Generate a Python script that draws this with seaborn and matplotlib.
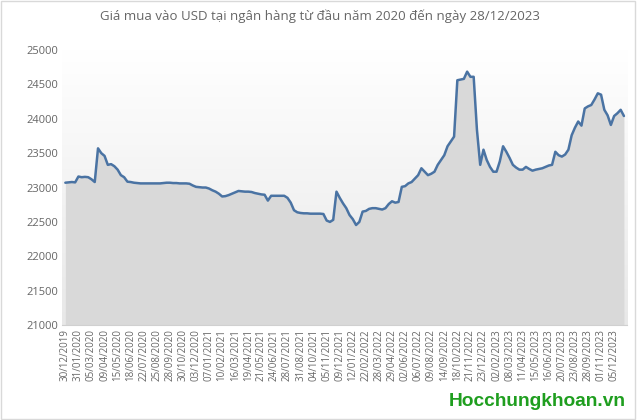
import numpy as np
import pandas as pd
import matplotlib
matplotlib.use("Agg")
import matplotlib.pyplot as plt
import seaborn as sns
from matplotlib.patches import Rectangle

# USD buying price (4 points per tick interval)
usd_price = [
    23070, 23075, 23080, 23075, 23160, 23150, 23155, 23150, 23120, 23080,
    23570, 23500, 23460, 23330, 23340, 23310, 23260, 23180, 23150, 23085,
    23080, 23070, 23065, 23060, 23060, 23060, 23060, 23060, 23060, 23060,
    23065, 23070, 23070, 23065, 23065, 23060, 23060, 23060, 23055, 23030,
    23010, 23005, 23000, 23000, 22985, 22960, 22940, 22910, 22870, 22875,
    22890, 22910, 22930, 22950, 22945, 22940, 22940, 22935, 22920, 22910,
    22900, 22895, 22810, 22880, 22880, 22880, 22880, 22880, 22850, 22780,
    22670, 22640, 22630, 22625, 22625, 22620, 22620, 22620, 22620, 22615,
    22520, 22500, 22530, 22940, 22850, 22770, 22700, 22600, 22540, 22455,
    22500, 22650, 22660, 22690, 22700, 22700, 22690, 22680, 22700, 22760,
    22800, 22780, 22790, 23010, 23020, 23060, 23080, 23130, 23180, 23280,
    23230, 23180, 23200, 23230, 23330, 23400, 23470, 23600, 23670, 23740,
    24560, 24570, 24580, 24685, 24610, 24610, 23840, 23330, 23550, 23400,
    23300, 23230, 23230, 23380, 23600, 23520, 23430, 23330, 23290, 23260,
    23260, 23300, 23270, 23245, 23260, 23270, 23280, 23300, 23320, 23330,
    23520, 23470, 23450, 23480, 23550, 23760, 23870, 23960, 23900, 24150,
    24180, 24200, 24280, 24370, 24350, 24130, 24050, 23910, 24040, 24080,
    24130, 24040,
]

date_labels = [
    "30/12/2019", "31/01/2020", "05/03/2020", "09/04/2020", "15/05/2020",
    "18/06/2020", "22/07/2020", "25/08/2020", "28/09/2020", "30/10/2020",
    "03/12/2020", "07/01/2021", "10/02/2021", "16/03/2021", "19/04/2021",
    "21/05/2021", "24/06/2021", "28/07/2021", "31/08/2021", "04/10/2021",
    "05/11/2021", "09/12/2021", "12/01/2022", "22/02/2022", "28/03/2022",
    "29/04/2022", "02/06/2022", "06/07/2022", "09/08/2022", "14/09/2022",
    "18/10/2022", "21/11/2022", "23/12/2022", "02/02/2023", "08/03/2023",
    "11/04/2023", "15/05/2023", "16/06/2023", "20/07/2023", "23/08/2023",
    "28/09/2023", "01/11/2023", "05/12/2023",
]
points_per_label = 4

df = pd.DataFrame({"idx": np.arange(len(usd_price)), "price": usd_price})

sns.set_style("white")
plt.rcParams["font.family"] = ["Open Sans", "DejaVu Sans"]

fig = plt.figure(figsize=(6.4, 4.2), dpi=100)
ax = fig.add_axes([0.097, 0.226, 0.883, 0.655])

# soft vertical gradient behind the area (white at top, light grey lower down)
grad = np.linspace(0, 1, 256).reshape(-1, 1)
ax.imshow(grad, extent=(-1, len(usd_price), 21000, 25000), aspect="auto",
          cmap=matplotlib.colors.LinearSegmentedColormap.from_list("g", ["#e8e8e8", "#ffffff"]),
          zorder=0, origin="lower")

ax.fill_between(df["idx"], 21000, df["price"], color="#d9d9d9", lw=0, zorder=1)
sns.lineplot(data=df, x="idx", y="price", color="#4a73a3", lw=1.8, ax=ax, zorder=2)

ax.set_xlim(-1, len(usd_price))
ax.set_ylim(21000, 25000)
ax.set_yticks(np.arange(21000, 25001, 500))
ax.set_yticklabels([str(v) for v in range(21000, 25001, 500)], fontsize=8, color="#666666")
ax.set_xticks(np.arange(len(date_labels)) * points_per_label)
ax.set_xticklabels(date_labels, rotation=90, fontsize=7, color="#666666")
ax.tick_params(axis="both", length=0, pad=3)
ax.set_xlabel("")
ax.set_ylabel("")
for s in ["top", "right", "left"]:
    ax.spines[s].set_visible(False)
ax.spines["bottom"].set_color("#d0d0d0")

fig.text(0.5, 0.962, "Giá mua vào USD tại ngân hàng từ đầu năm 2020 đến ngày 28/12/2023",
         ha="center", va="center", fontsize=9.5, color="#666666")
fig.text(0.978, 0.043, "Hocchungkhoan.vn", ha="right", va="center",
         fontsize=13.8, fontweight="bold", color="#1f9e1f",
         family=["Liberation Sans", "DejaVu Sans"])

fig.patches.append(Rectangle((0.002, 0.003), 0.99, 0.994, transform=fig.transFigure,
                             fill=False, edgecolor="#d9d9d9", lw=1))

fig.savefig("out.png", dpi=100)
